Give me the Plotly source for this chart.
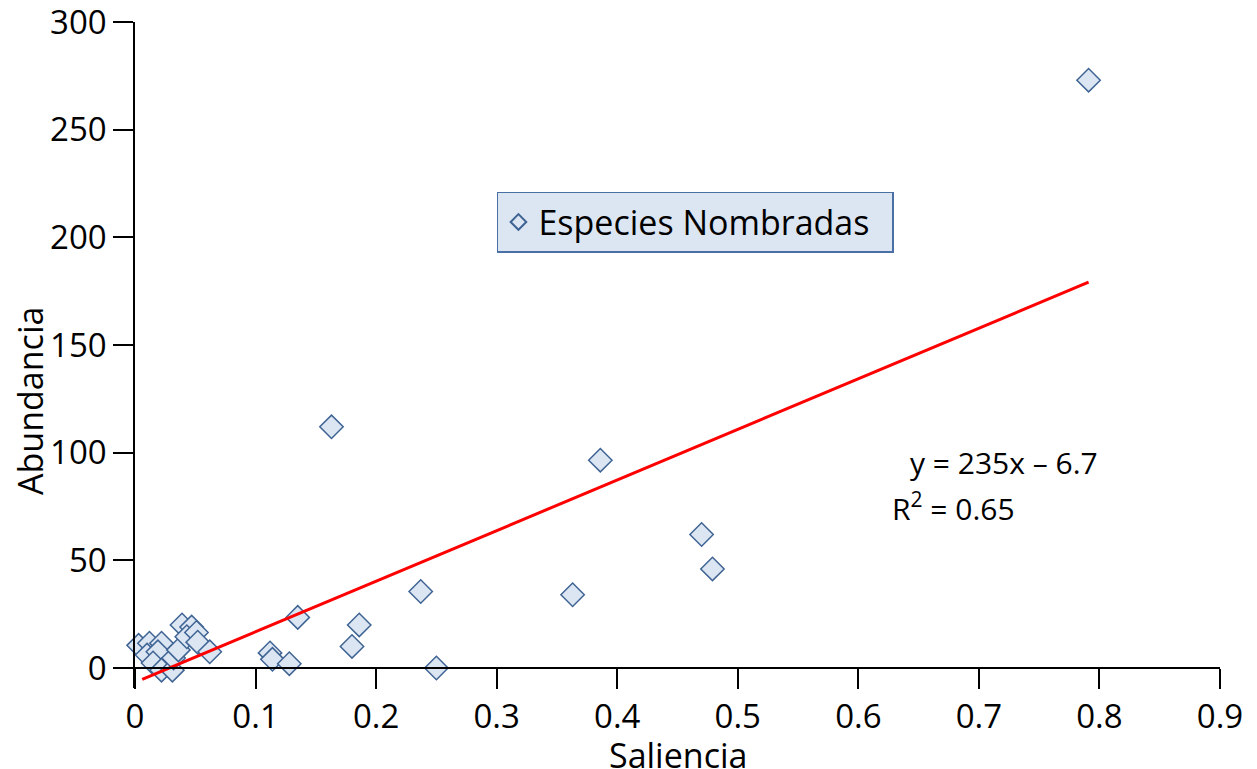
import plotly.graph_objects as go
import numpy as np

saliencia = [0.791, 0.163, 0.386, 0.470, 0.479, 0.363, 0.237, 0.250, 0.186, 0.180,
             0.135, 0.112, 0.114, 0.128,
             0.003, 0.012, 0.022, 0.010, 0.019, 0.015, 0.022, 0.031, 0.032, 0.036,
             0.039, 0.047, 0.043, 0.051, 0.052, 0.062]
abundancia = [273, 112, 96.5, 62, 46, 34, 35.5, 0, 20, 10,
              23.5, 7, 4, 2,
              10.5, 11.5, 11.5, 6, 7.5, 2.3, -1, -1, 4.6, 8.4,
              20, 19, 14.5, 16.5, 12, 7.5]
slope = 235
intercept = -6.7
r2 = 0.65

font_family = "Open Sans"
fs = 33
tfs = 34
afs = 30

fig = go.Figure()
fig.add_trace(go.Scatter(
    x=saliencia, y=abundancia, mode="markers", name="Especies Nombradas&nbsp;&nbsp;",
    marker=dict(symbol="diamond", size=18, color="#dce6f2",
                line=dict(color="#3f6494", width=1.5)),
    cliponaxis=False))
xl = np.array([0.006, max(saliencia)])
fig.add_trace(go.Scatter(x=xl, y=slope * xl + intercept, mode="lines",
                         line=dict(color="#ff0000", width=3), showlegend=False))

fig.update_layout(
    width=1249, height=761,
    margin=dict(l=127, r=37, t=14, b=81, autoexpand=False),
    paper_bgcolor="white", plot_bgcolor="white",
    font=dict(family=font_family, size=fs, color="black"),
    legend=dict(x=0.3336, y=0.745, xanchor="left", yanchor="top",
                bgcolor="#dce6f2", bordercolor="#4a6fa5", borderwidth=1.5,
                font=dict(size=34), itemsizing="constant"),
    xaxis=dict(range=[0, 0.9], dtick=0.1, tick0=0, showgrid=False, zeroline=False,
               showline=True, linecolor="black", linewidth=1.5,
               ticks="outside", ticklen=20, tickwidth=1.5, tickcolor="black",
               tickfont=dict(size=fs), automargin=False, ticklabeloverflow="allow",
               anchor="free", position=9.3 / 309.3),
    yaxis=dict(range=[-9.3, 300.01], dtick=50, tick0=0, showgrid=False, zeroline=False,
               showline=True, linecolor="black", linewidth=1.5,
               ticks="outside", ticklen=20, tickwidth=1.5, tickcolor="black",
               tickfont=dict(size=fs), automargin=False, ticklabeloverflow="allow"),
    annotations=[
        dict(x=-0.0968, y=124, xref="paper", yref="y", xanchor="center", yanchor="middle",
             text="Abundancia", textangle=-90, showarrow=False, font=dict(size=tfs)),
        dict(x=0.5, y=-0.1, xref="paper", yref="paper", xanchor="center", yanchor="middle",
             text="Saliencia", showarrow=False, font=dict(size=tfs)),
        dict(x=0.641, y=95.2, xref="x", yref="y", xanchor="left", yanchor="middle",
             text=f"y = {slope}x – {abs(intercept)}", showarrow=False,
             font=dict(size=afs)),
        dict(x=0.626, y=74.8, xref="x", yref="y", xanchor="left", yanchor="middle",
             text=f"R<sup>2</sup> = {r2}", showarrow=False, font=dict(size=afs)),
    ],
)
fig.write_html("out.html")
